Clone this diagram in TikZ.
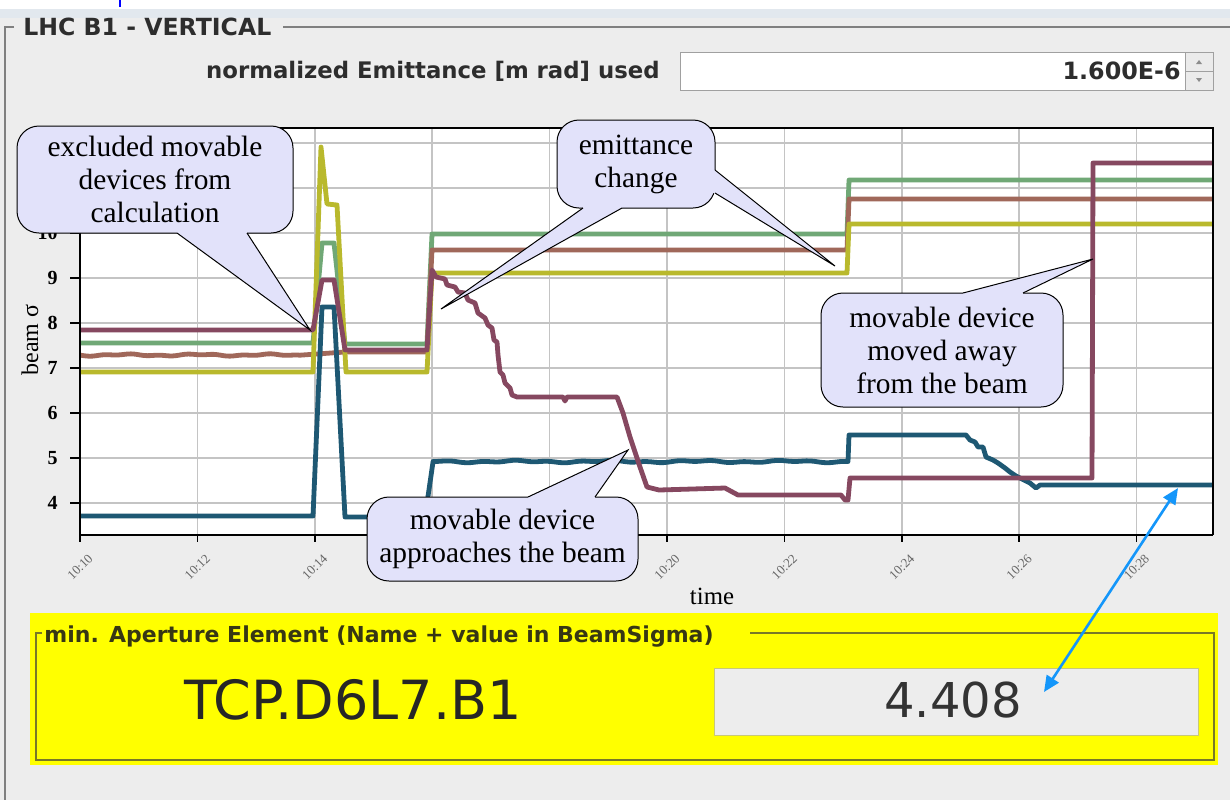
\documentclass[tikz,border=0pt]{standalone}
\usepackage{fontspec}
\setmainfont{Liberation Serif}
\newfontfamily\uifont{DejaVu Sans}
\usetikzlibrary{arrows.meta,calc}

\definecolor{panelbg}{RGB}{237,237,237}
\definecolor{topband}{RGB}{226,232,238}
\definecolor{framegray}{RGB}{128,128,128}
\definecolor{uitext}{RGB}{45,45,45}
\definecolor{gridc}{RGB}{196,196,196}
\definecolor{callfill}{RGB}{226,226,250}
\definecolor{cgreen}{RGB}{112,168,118}
\definecolor{cbrown}{RGB}{160,104,90}
\definecolor{cmaroon}{RGB}{134,72,96}
\definecolor{colive}{RGB}{185,185,45}
\definecolor{cblue}{RGB}{30,88,115}
\definecolor{arrowblue}{RGB}{20,150,250}
\definecolor{yellowbg}{RGB}{255,255,0}
\definecolor{oliveedge}{RGB}{120,120,40}
\definecolor{olivetext}{RGB}{55,55,20}
\definecolor{fieldedge}{RGB}{200,200,120}
\definecolor{fieldgray}{RGB}{160,160,160}

\tikzset{
  trace/.style={line width=2.4pt, line join=round},
  gridline/.style={draw=gridc, line width=0.75pt},
  callout/.style={draw=black, line width=0.5pt, fill=callfill, rounded corners=11pt,
    align=center, inner sep=0pt, font=\fontsize{14.7}{16.5}\selectfont},
  uilabel/.style={font=\uifont\bfseries\fontsize{11.4}{13}\selectfont, text=uitext, inner sep=0pt},
  ytick/.style={font=\bfseries\fontsize{10}{12}\selectfont, anchor=east, inner sep=0pt},
  xtick/.style={font=\fontsize{6.5}{8}\selectfont, text=black!60, rotate=45, inner sep=0pt},
  bigval/.style={font=\uifont\fontsize{27}{30}\selectfont, inner sep=0pt},
}

% tail of a speech balloon: base point a, tip, base point b, inward offset
\newcommand{\balloontail}[4]{%
  \fill[callfill] ($(#1)+(#4)$) -- (#1) -- (#2) -- (#3) -- ($(#3)+(#4)$) -- cycle;
  \draw[line width=0.5pt, line join=miter] (#1) -- (#2) -- (#3);
}

\begin{document}
\begin{tikzpicture}[x=0.5pt,y=-0.5pt]
\useasboundingbox (0,0) rectangle (1230,800);

% window background
\fill[panelbg] (0,0) rectangle (1230,800);
\fill[white] (0,0) rectangle (1230,9);
\fill[topband] (0,9) rectangle (1230,18);
\draw[blue, line width=0.8pt] (120,0) -- (120,7);

% titled group frame
\draw[framegray, line width=0.6pt] (14,27) -- (5,27) -- (5,800);
\draw[framegray, line width=0.6pt] (283,27) -- (1230,27);
\node[uilabel, font=\uifont\bfseries\fontsize{11.8}{13}\selectfont, anchor=west] (paneltitle) at (23,27) {LHC B1 - VERTICAL};

% emittance input
\node[uilabel, anchor=east] (emitlabel) at (660,71) {normalized Emittance [m rad] used};
\node[draw=fieldgray, fill=white, line width=0.6pt, minimum width=252.5pt, minimum height=19pt,
      anchor=north west, inner sep=0pt] (emitfield) at (680,52) {};
\node[uilabel, font=\uifont\bfseries\fontsize{11.9}{13}\selectfont, anchor=east] (emitvalue) at (1181,71) {1.600E-6};
\node[draw=fieldgray, fill=black!8, line width=0.6pt, minimum width=14pt, minimum height=19pt,
      anchor=north west, inner sep=0pt] (spinner) at (1185,52) {};
\draw[fieldgray, line width=0.6pt] (spinner.west) -- (spinner.east);
\fill[black!45] (1196,64) -- (1202,64) -- (1199,60) -- cycle;
\fill[black!45] (1196,78) -- (1202,78) -- (1199,82) -- cycle;

% plot canvas and grid
\fill[white] (80,128) rectangle (1213,535);
\foreach \gx in {197.4,314.8,432.2,549.6,667,784.4,901.8,1019.2,1136.6}
  \draw[gridline] (\gx,128) -- (\gx,535);
\foreach \v in {4,...,12}
  \draw[gridline] (80,{503-45*(\v-4)}) -- (1213,{503-45*(\v-4)});

% data series
\draw[trace, cgreen] (80,343) -- (313,343) -- (322,243) -- (334,243) -- (345,344) -- (427,344)
  -- (432,234) -- (847,234) -- (849,180) -- (1213,180);
\draw[trace, cbrown] plot[domain=80:300, samples=70] (\x,{355+0.7*sin(5*\x)+0.5*sin(13*\x)})
  -- (345,352) -- (427,352) -- (432,250) -- (847,250) -- (849,199) -- (1213,199);
\draw[trace, colive] (80,372) -- (313,372) -- (321,147) -- (323,166) -- (327,204) -- (337,205)
  -- (346,372) -- (427,372) -- (432,273) -- (847,273) -- (849,224) -- (1213,224);
\draw[trace, cblue] (80,516) -- (313,516) -- (322,307) -- (334,307) -- (345,517) -- (425,517)
  -- (433,462) -- plot[domain=433:848, samples=100] (\x,{461.5+0.7*sin(4*\x)+0.6*sin(11*\x)})
  -- (849,435) -- (966,435) -- (970,440) -- (975,442) -- (978,447) -- (983,447) -- (986,457)
  -- (993,460) -- (998,463) -- (1005,468) -- (1010,472) -- (1016,476) -- (1022,479)
  -- (1030,483) -- (1036,488) -- (1040,485) -- (1213,485);
\draw[trace, cmaroon] (80,330) -- (313,330) -- (322,280) -- (334,280) -- (345,350) -- (427,350)
  -- (432,270) -- (436,277) -- (445,279) -- (447,285) -- (455,287) -- (458,292) -- (465,293)
  -- (468,300) -- (475,303) -- (478,313) -- (485,318) -- (488,325) -- (492,328) -- (494,340)
  -- (497,342) -- (498,355) -- (500,372) -- (503,375) -- (505,383) -- (510,388) -- (512,395)
  -- (517,397) -- (563,397) -- (565,401) -- (567,397) -- (617,397) -- (623,413) -- (630,437)
  -- (640,467) -- (647,487) -- (659,490) -- (725,488) -- (738,495) -- (841,495) -- (845,500)
  -- (848,500) -- (850,478) -- (1092,478) -- (1093,163) -- (1213,163);

% frame and axes
\draw[black, line width=0.6pt] (80,128) -- (1213,128) -- (1213,535);
\draw[black, line width=1pt] (80,128) -- (80,535) -- (1213,535);
\foreach \v in {4,...,12}
  \draw[black, line width=0.8pt] (70,{503-45*(\v-4)}) -- (80,{503-45*(\v-4)});
\foreach \gx in {80,197.4,314.8,432.2,549.6,667,784.4,901.8,1019.2,1136.6}
  \draw[black, line width=0.8pt] (\gx,535) -- (\gx,542);

% axis labels
\foreach \v in {4,...,10}
  \node[ytick] (ylab\v) at (58,{503-45*(\v-4)}) {\v};
\node[font=\fontsize{12}{14}\selectfont, rotate=90, inner sep=0pt] (ytitle) at (30,340) {beam σ};
\node[xtick] (xl10) at (80,567) {10:10};
\node[xtick] (xl12) at (197.4,567) {10:12};
\node[xtick] (xl14) at (314.8,567) {10:14};
\node[xtick] (xl20) at (667,567) {10:20};
\node[xtick] (xl22) at (784.4,567) {10:22};
\node[xtick] (xl24) at (901.8,567) {10:24};
\node[xtick] (xl26) at (1019.2,567) {10:26};
\node[xtick] (xl28) at (1136.6,567) {10:28};
\node[font=\fontsize{12.4}{14}\selectfont, inner sep=0pt] (xtitle) at (712,596) {time};

% speech balloons
\node[callout, minimum width=138pt, minimum height=53.5pt] (c1) at (155,179.5)
  {excluded movable\\devices from\\calculation};
\coordinate (c1a) at (177,233); \coordinate (c1b) at (247,233); \coordinate (c1tip) at (310,330);
\balloontail{c1a}{c1tip}{c1b}{0,-6}

\node[callout, minimum width=79pt, minimum height=44pt] (c2) at (636,164)
  {emittance\\change};
\coordinate (c2a) at (583,208); \coordinate (c2b) at (622,208); \coordinate (c2tip) at (441,309);
\balloontail{c2a}{c2tip}{c2b}{0,-6}
\coordinate (c2c) at (715,170); \coordinate (c2d) at (715,193); \coordinate (c2tipb) at (835,266);
\balloontail{c2c}{c2tipb}{c2d}{-6,0}

\node[callout, minimum width=121pt, minimum height=57pt] (c3) at (942,350)
  {movable device\\moved away\\from the beam};
\coordinate (c3a) at (963,293); \coordinate (c3b) at (1023,293); \coordinate (c3tip) at (1093,259);
\balloontail{c3a}{c3tip}{c3b}{0,6}

\node[callout, minimum width=135.5pt, minimum height=42pt] (c4) at (502.5,539)
  {movable device\\approaches the beam};
\coordinate (c4a) at (528,497); \coordinate (c4b) at (595,497); \coordinate (c4tip) at (628,450);
\balloontail{c4a}{c4tip}{c4b}{0,6}

% minimum aperture panel
\fill[yellowbg] (30,613) rectangle (1218,765);
\draw[oliveedge, line width=0.7pt] (42,633) -- (36,633) -- (36,760) -- (1214,760) -- (1214,633) -- (750,633);
\node[uilabel, font=\uifont\bfseries\fontsize{11}{13}\selectfont, text=olivetext, anchor=west] (apttitle) at (44,636)
  {min. Aperture Element (Name + value in BeamSigma)};
\node[draw=fieldedge, fill=panelbg, line width=0.6pt, minimum width=242pt, minimum height=33.5pt,
      anchor=north west, inner sep=0pt] (valuebox) at (714,668) {};
\node[bigval, text=black!85] (aptname) at (353,700) {TCP.D6L7.B1};
\node[bigval, font=\uifont\fontsize{24}{28}\selectfont, text=black!80] (aptvalue) at (953,700) {4.408};

% link between the last plotted value and the readout
\coordinate (traceend) at (1178,488);
\coordinate (readout) at (1044,692);
\draw[{Triangle[length=8pt,width=7pt]}-{Triangle[length=8pt,width=7pt]}, arrowblue, line width=1.3pt]
  (traceend) -- (readout);
\end{tikzpicture}
\end{document}
